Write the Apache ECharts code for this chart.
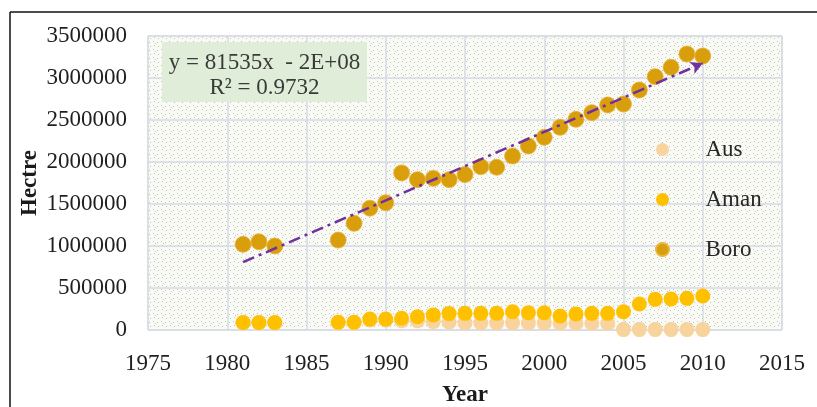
<!DOCTYPE html>
<html><head><meta charset="utf-8">
<script src="https://cdn.jsdelivr.net/npm/echarts@6/dist/echarts.min.js"></script>
<style>html,body{margin:0;padding:0;background:#fff}#c{width:817px;height:407px}</style>
</head><body><div id="c"></div>
<script>
// ---- data ----
const seriesNames = ['Aus', 'Aman', 'Boro'];
const years = [1981,1982,1983,1987,1988,1989,1990,1991,1992,1993,1994,1995,1996,1997,1998,1999,2000,2001,2002,2003,2004,2005,2006,2007,2008,2009,2010];
const ausValues = [85000,85000,85000,88000,88000,120000,120000,110000,110000,100000,95000,85000,85000,85000,85000,85000,85000,80000,80000,80000,80000,5000,5000,5000,5000,5000,5000];
const amanValues = [90000,90000,90000,92000,92000,130000,130000,140000,158000,180000,195000,198000,198000,198000,218000,206000,206000,167000,190000,198000,198000,218000,310000,365000,369000,377000,405000];
const boroValues = [1020000,1050000,1000000,1070000,1270000,1450000,1515000,1870000,1790000,1805000,1790000,1850000,1944000,1937000,2071000,2190000,2294000,2413000,2508000,2587000,2679000,2690000,2857000,3016000,3127000,3286000,3262000];
const equationLines = ['y = 81535x  - 2E+08', 'R² = 0.9732'];
const xTicks = { min: 1975, max: 2015, step: 5 };
const yTicks = { min: 0, max: 3500000, step: 500000 };

// ---- least squares trend of Boro (as the spreadsheet trendline) ----
function fit(xs, ys) {
  const n = xs.length;
  let sx = 0, sy = 0, sxx = 0, sxy = 0;
  for (let i = 0; i < n; i++) { sx += xs[i]; sy += ys[i]; sxx += xs[i]*xs[i]; sxy += xs[i]*ys[i]; }
  const m = (n*sxy - sx*sy) / (n*sxx - sx*sx);
  const b = (sy - m*sx) / n;
  return { m, b };
}
const tr = fit(years, boroValues);
const x0 = years[0], x1 = years[years.length - 1];

// ---- dotted background pattern ----
const pc = document.createElement('canvas');
pc.width = 8; pc.height = 8;
const g = pc.getContext('2d');
g.fillStyle = '#F9FAF5'; g.fillRect(0, 0, 8, 8);
g.fillStyle = '#BFC9B2';
[[1,1],[5,2],[2,5],[6,6],[3,3]].forEach(p => g.fillRect(p[0], p[1], 1, 1));

const FONT = '"Liberation Serif", "Times New Roman", serif';
const pts = vals => years.map((y, i) => [y, vals[i]]);
const plain = v => String(v);

const chart = echarts.init(document.getElementById('c'), null, { renderer: 'canvas' });
chart.setOption({
  animation: false,
  textStyle: { fontFamily: FONT },
  grid: {
    left: 148, right: 35, top: 36, bottom: 77, show: true, outerBoundsMode: 'none', containLabel: false,
    backgroundColor: { image: pc, repeat: 'repeat' },
    borderColor: '#D9D9D9', borderWidth: 1
  },
  legend: {
    data: seriesNames, orient: 'vertical', left: 650, top: 133,
    icon: 'circle', itemWidth: 76, itemHeight: 13, itemGap: 27,
    textStyle: { fontFamily: FONT, fontSize: 23, color: '#262626', lineHeight: 22 }
  },
  xAxis: {
    type: 'value', min: xTicks.min, max: xTicks.max, interval: xTicks.step,
    axisLine: { show: false }, axisTick: { show: false },
    splitLine: { show: true, lineStyle: { color: '#D5DBE5', width: 1.5 } },
    axisLabel: { fontFamily: FONT, fontSize: 23, color: '#1f1f1f', margin: 22, formatter: plain },
    name: 'Year', nameLocation: 'middle', nameGap: 54, nameMoveOverlap: false,
    nameTextStyle: { fontFamily: FONT, fontSize: 23, fontWeight: 'bold', color: '#1a1a1a' }
  },
  yAxis: {
    type: 'value', min: yTicks.min, max: yTicks.max, interval: yTicks.step,
    axisLine: { show: false }, axisTick: { show: false },
    splitLine: { show: true, lineStyle: { color: '#D5DBE5', width: 1.5 } },
    axisLabel: { fontFamily: FONT, fontSize: 23, color: '#1f1f1f', margin: 21, formatter: plain },
    name: 'Hectre', nameLocation: 'middle', nameGap: 106, nameRotate: 90, nameMoveOverlap: false,
    nameTextStyle: { fontFamily: FONT, fontSize: 23, fontWeight: 'bold', color: '#1a1a1a' }
  },
  series: [
    { name: 'Aus', type: 'scatter', clip: false, symbolSize: 15, data: pts(ausValues),
      itemStyle: { color: '#F9D39E', opacity: 1 } },
    { name: 'Aman', type: 'scatter', clip: false, symbolSize: 15, data: pts(amanValues),
      itemStyle: { color: '#FFC000', opacity: 1 } },
    { name: 'Boro', type: 'scatter', clip: false, symbolSize: 16, data: pts(boroValues),
      itemStyle: { color: '#D89E0B', borderColor: '#E8B43A', borderWidth: 0.8, opacity: 1 },
      markLine: {
        silent: true, symbol: ['none', 'arrow'], symbolSize: [10, 12],
        label: { show: false },
        lineStyle: { color: '#7030A0', width: 2.5, type: [12, 5, 3, 5], opacity: 1 },
        data: [[{ coord: [x0, tr.m*x0 + tr.b] }, { coord: [x1, tr.m*x1 + tr.b] }]]
      } }
  ],
  graphic: [
    { type: 'line', z: 100, shape: { x1: 10, y1: 12, x2: 817, y2: 12 }, style: { stroke: '#111', lineWidth: 1.5 }, silent: true },
    { type: 'line', z: 100, shape: { x1: 10, y1: 12, x2: 10, y2: 407 }, style: { stroke: '#111', lineWidth: 1.5 }, silent: true },
    { type: 'rect', z: 100, shape: { x: 162, y: 42, width: 205, height: 60 }, style: { fill: '#E0EDD8' }, silent: true },
    { type: 'text', z: 101, x: 264.5, y: 63, style: { text: equationLines[0], font: '23px ' + FONT, fill: '#3a3a3a', align: 'center', verticalAlign: 'middle' }, silent: true },
    { type: 'text', z: 101, x: 264.5, y: 88, style: { text: equationLines[1], font: '23px ' + FONT, fill: '#3a3a3a', align: 'center', verticalAlign: 'middle' }, silent: true }
  ]
});
</script></body></html>
